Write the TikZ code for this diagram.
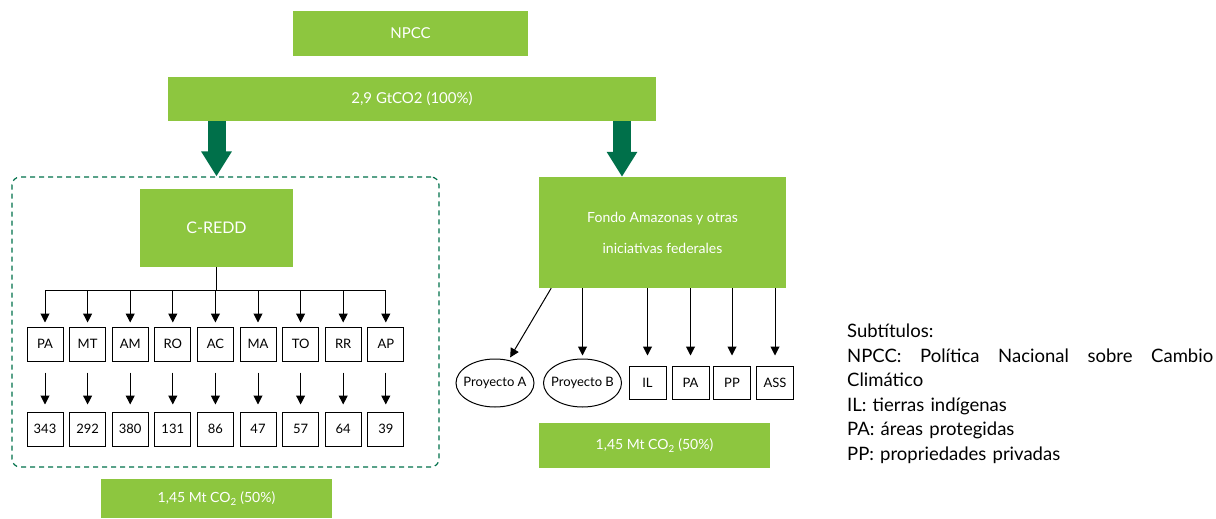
\documentclass[tikz,border=0pt]{standalone}
\usepackage{fontspec}
\setmainfont{Lato}
\usetikzlibrary{arrows.meta,calc,shapes.geometric}
\definecolor{leafgreen}{RGB}{141,198,63}
\definecolor{forestgreen}{RGB}{0,112,74}
\begin{document}
\begin{tikzpicture}[x=1pt, y=-1pt,
    greenbox/.style={fill=leafgreen, text=white, inner sep=0pt},
    statebox/.style={draw, line width=1pt, minimum width=36pt, minimum height=34pt,
                     inner sep=0pt, font=\fontsize{13}{15}\selectfont},
    projbox/.style={draw, ellipse, line width=1pt, minimum width=78pt, minimum height=48pt,
                    inner xsep=-10pt, inner ysep=0pt, font=\fontsize{13}{15}\selectfont},
    arr/.style={line width=1pt, -{Triangle[width=9pt,length=9pt]}},
    bigarr/.style={forestgreen, line width=18pt, -{Triangle[width=29pt,length=25pt]}}]
  \useasboundingbox (0,0) rectangle (1216,519);
  % top of the hierarchy
  \node[greenbox, minimum width=235pt, minimum height=45pt, font=\fontsize{15}{17}\selectfont]
    (npcc) at (410.5, 33.5) {NPCC};
  \node[greenbox, minimum width=488pt, minimum height=44pt, font=\fontsize{15}{17}\selectfont]
    (total) at (412, 99) {2,9 GtCO2 (100\%)};
  % left branch: C-REDD and the states
  \node[draw=forestgreen, line width=1.2pt, dash pattern=on 5pt off 4pt, rounded corners=8pt,
        minimum width=427pt, minimum height=290pt] (frame) at (225.5, 322) {};
  \node[greenbox, minimum width=153pt, minimum height=78pt, font=\fontsize{16}{18}\selectfont]
    (credd) at (216.5, 228) {C-REDD};
  \coordinate (bar) at (0, 290);
  \foreach \lab/\val [count=\i] in {PA/343, MT/292, AM/380, RO/131, AC/86, MA/47, TO/57, RR/64, AP/39} {
    \node[statebox] (top\i) at ({45+(\i-1)*42.6}, 344) {\lab};
    \node[statebox] (num\i) at ({45+(\i-1)*42.6}, 429) {\val};
    \draw[arr, shorten >=4pt] (top\i |- bar) -- (top\i.north);
    \draw[arr, shorten <=11pt, shorten >=7pt] (top\i.south) -- (num\i.north);
  }
  \draw[line width=1pt] (top1 |- bar) -- (top9 |- bar);
  \draw[line width=1pt] (credd.south) -- (credd.south |- bar);
  \node[greenbox, minimum width=231pt, minimum height=39pt, font=\fontsize{14}{16}\selectfont]
    (leftshare) at (216.5, 498.5) {1,45 Mt CO\textsubscript{2} (50\%)};
  % right branch: Fondo Amazonas
  \node[greenbox, minimum width=247pt, minimum height=111pt, align=center,
        font=\fontsize{14}{31}\selectfont]
    (fondo) at (662.5, 232.5) {Fondo Amazonas y otras\\iniciativas federales};
  \coordinate (rx) at (622, 0);
  \draw[bigarr] (total.south -| credd) -- (frame.north -| credd);
  \draw[bigarr] (total.south -| rx) -- (fondo.north -| rx);
  \node[projbox] (projA) at (495, 383) {Proyecto A};
  \node[projbox] (projB) at (582.5, 383) {Proyecto B};
  \draw[arr, shorten >=3pt] ($(fondo.south west)!0.05!(fondo.south east)$) -- (projA);
  \draw[arr, shorten >=3pt] (fondo.south -| projB) -- (projB.north);
  \foreach \name/\lab/\x in {il/IL/647.5, pa/PA/690.5, pp/PP/732, ass/ASS/775} {
    \node[statebox, minimum width=37pt, minimum height=33pt] (\name) at (\x, 382.5) {\lab};
    \draw[arr, shorten >=10pt] (fondo.south -| \name) -- (\name.north);
  }
  \node[greenbox, minimum width=231pt, minimum height=45pt, font=\fontsize{14}{16}\selectfont]
    (rightshare) at (654.5, 445.5) {1,45 Mt CO\textsubscript{2} (50\%)};
  % legend
  \node[anchor=north west, inner sep=0pt, text width=366pt, align=left,
        font=\fontsize{18.5}{24.5}\selectfont] (legend) at (847, 324)
    {Subtítulos:\\
     \makebox[366pt][l]{NPCC:\hfill Política\hfill Nacional\hfill sobre\hfill Cambio}\\
     Climático\\
     IL: tierras indígenas\\
     PA: áreas protegidas\\
     PP: propriedades privadas};
\end{tikzpicture}
\end{document}
